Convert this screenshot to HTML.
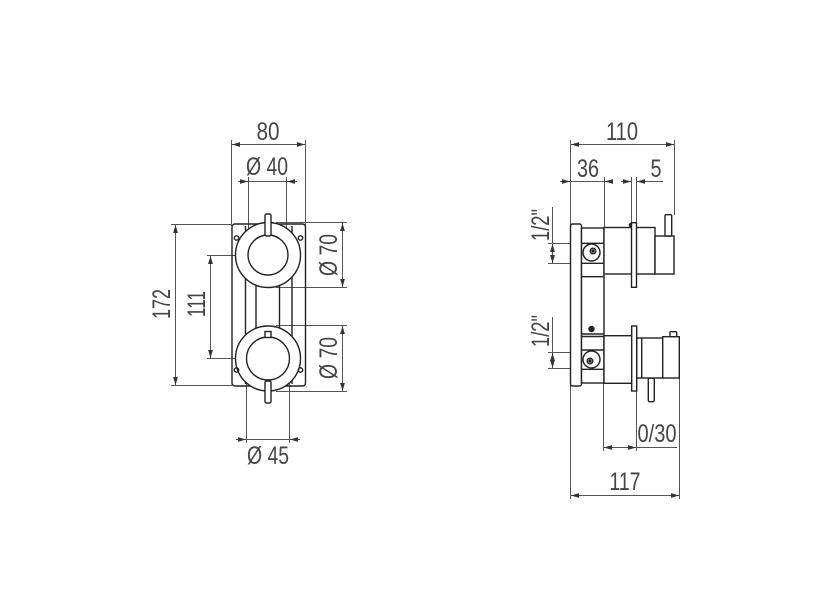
<!DOCTYPE html>
<html><head><meta charset="utf-8"><style>
html,body{margin:0;padding:0;background:#fff;width:832px;height:610px;overflow:hidden}
svg text{font-family:"Liberation Sans Narrow","Liberation Sans",sans-serif;fill:#444;font-size:25px}
</style></head><body>
<svg width="832" height="610" viewBox="0 0 832 610" xmlns="http://www.w3.org/2000/svg">
<defs>
<marker id="a" viewBox="0 0 10 6" refX="10" refY="3" markerWidth="8" markerHeight="5" orient="auto-start-reverse" markerUnits="userSpaceOnUse"><path d="M0,0 L10,3 L0,6z" fill="#333"/></marker>
</defs>
<g stroke="#555" stroke-width="1" fill="none">
<line x1="231.5" y1="140" x2="231.5" y2="226"/><line x1="305.5" y1="140" x2="305.5" y2="226"/>
<line x1="232" y1="144.5" x2="305" y2="144.5" marker-start="url(#a)" marker-end="url(#a)"/>
<line x1="248.5" y1="177" x2="248.5" y2="240"/><line x1="286.5" y1="177" x2="286.5" y2="240"/>
<line x1="238" y1="181.5" x2="248" y2="181.5" marker-end="url(#a)"/><line x1="248" y1="181.5" x2="287" y2="181.5"/><line x1="297" y1="181.5" x2="287" y2="181.5" marker-end="url(#a)"/>
<line x1="276" y1="222.5" x2="347" y2="222.5"/><line x1="276" y1="287.5" x2="347" y2="287.5"/>
<line x1="342.5" y1="223" x2="342.5" y2="287" marker-start="url(#a)" marker-end="url(#a)"/>
<line x1="276" y1="325.5" x2="347" y2="325.5"/><line x1="276" y1="391.5" x2="347" y2="391.5"/>
<line x1="342.5" y1="326" x2="342.5" y2="391" marker-start="url(#a)" marker-end="url(#a)"/>
<line x1="171" y1="224.5" x2="232" y2="224.5"/><line x1="171" y1="385.5" x2="232" y2="385.5"/>
<line x1="175.5" y1="225" x2="175.5" y2="385" marker-start="url(#a)" marker-end="url(#a)"/>
<line x1="207" y1="255.5" x2="268" y2="255.5"/><line x1="207" y1="358.5" x2="268" y2="358.5"/>
<line x1="210.5" y1="256" x2="210.5" y2="358" marker-start="url(#a)" marker-end="url(#a)"/>
<line x1="246.5" y1="365" x2="246.5" y2="443"/><line x1="289.5" y1="365" x2="289.5" y2="443"/>
<line x1="236" y1="439.5" x2="246" y2="439.5" marker-end="url(#a)"/><line x1="246" y1="439.5" x2="290" y2="439.5"/><line x1="300" y1="439.5" x2="290" y2="439.5" marker-end="url(#a)"/>
</g>
<g stroke="#222" stroke-width="1.4" fill="none">
<rect x="232" y="224" width="73.5" height="162" rx="3"/>
<line x1="245.5" y1="226" x2="245.5" y2="384"/><line x1="292" y1="226" x2="292" y2="384"/>
<line x1="256" y1="280" x2="256" y2="335"/><line x1="279.5" y1="280" x2="279.5" y2="335"/>
<circle cx="268" cy="255" r="32.5" fill="#fff"/>
<circle cx="268" cy="255" r="20"/>
<circle cx="268" cy="358.5" r="32.5" fill="#fff"/>
<circle cx="268" cy="358.5" r="21.5"/>
<rect x="265" y="214" width="6" height="22" rx="1.5" fill="#fff"/>
<rect x="265" y="381" width="6" height="22" rx="1.5" fill="#fff"/>
<rect x="265" y="331.5" width="6" height="6" fill="#fff"/>
<circle cx="236.5" cy="238" r="2.2"/><circle cx="300.5" cy="238" r="2.2"/>
<circle cx="236.5" cy="370" r="2.2"/><circle cx="300.5" cy="370" r="2.2"/>
</g>
<text x="268" y="140" text-anchor="middle" textLength="23" lengthAdjust="spacingAndGlyphs">80</text>
<text x="267" y="175" text-anchor="middle" textLength="42" lengthAdjust="spacingAndGlyphs">Ø 40</text>
<text x="268" y="464" text-anchor="middle" textLength="42" lengthAdjust="spacingAndGlyphs">Ø 45</text>
<text transform="translate(170,304) rotate(-90)" text-anchor="middle" textLength="30" lengthAdjust="spacingAndGlyphs">172</text>
<text transform="translate(205,304) rotate(-90)" text-anchor="middle" textLength="26" lengthAdjust="spacingAndGlyphs">111</text>
<text transform="translate(337,255) rotate(-90)" text-anchor="middle" textLength="42" lengthAdjust="spacingAndGlyphs">Ø 70</text>
<text transform="translate(337,358) rotate(-90)" text-anchor="middle" textLength="42" lengthAdjust="spacingAndGlyphs">Ø 70</text>

<g stroke="#555" stroke-width="1" fill="none">
<line x1="570.5" y1="140" x2="570.5" y2="499"/>
<line x1="674.5" y1="140" x2="674.5" y2="215"/>
<line x1="571" y1="144.5" x2="674" y2="144.5" marker-start="url(#a)" marker-end="url(#a)"/>
<line x1="604.5" y1="177" x2="604.5" y2="228"/>
<line x1="560" y1="181.5" x2="570" y2="181.5" marker-end="url(#a)"/><line x1="570" y1="181.5" x2="604" y2="181.5"/><line x1="612" y1="181.5" x2="605" y2="181.5" marker-end="url(#a)"/>
<line x1="631.5" y1="177" x2="631.5" y2="223"/><line x1="636.5" y1="177" x2="636.5" y2="223"/>
<line x1="621" y1="181.5" x2="631" y2="181.5" marker-end="url(#a)"/><line x1="663" y1="181.5" x2="637" y2="181.5" marker-end="url(#a)"/>
<line x1="548" y1="243.5" x2="591" y2="243.5"/><line x1="548" y1="263.5" x2="591" y2="263.5"/>
<line x1="552.5" y1="207" x2="552.5" y2="263"/>
<line x1="552.5" y1="253" x2="552.5" y2="244" marker-end="url(#a)"/><line x1="552.5" y1="253" x2="552.5" y2="263" marker-end="url(#a)"/>
<line x1="548" y1="352.5" x2="591" y2="352.5"/><line x1="548" y1="368.5" x2="591" y2="368.5"/>
<line x1="552.5" y1="317" x2="552.5" y2="368"/>
<line x1="552.5" y1="360" x2="552.5" y2="353" marker-end="url(#a)"/><line x1="552.5" y1="360" x2="552.5" y2="368" marker-end="url(#a)"/>
<line x1="603.5" y1="383" x2="603.5" y2="451"/><line x1="636.5" y1="391" x2="636.5" y2="451"/>
<line x1="604" y1="447.5" x2="636" y2="447.5" marker-start="url(#a)" marker-end="url(#a)"/><line x1="636" y1="447.5" x2="677" y2="447.5"/>
<line x1="679.5" y1="378" x2="679.5" y2="499"/>
<line x1="571" y1="495.5" x2="679" y2="495.5" marker-start="url(#a)" marker-end="url(#a)"/>
</g>
<g stroke="#222" stroke-width="1.4" fill="#fff">
<rect x="570.5" y="224" width="11" height="162" rx="2"/>
<rect x="581.5" y="228" width="22.5" height="155"/>
<line x1="581.5" y1="243.3" x2="604" y2="243.3"/><line x1="581.5" y1="263.3" x2="604" y2="263.3"/>
<line x1="581.5" y1="276.7" x2="604" y2="276.7"/><line x1="581.5" y1="334" x2="604" y2="334"/>
<line x1="581.5" y1="336.5" x2="604" y2="336.5"/><line x1="581.5" y1="350" x2="604" y2="350"/>
<line x1="581.5" y1="369.3" x2="604" y2="369.3"/>
<circle cx="591.5" cy="252.5" r="8.5"/><circle cx="593" cy="251" r="2.8" fill="#fff"/><circle cx="593" cy="251" r="1" fill="#222"/>
<circle cx="591.5" cy="359.5" r="8.5"/><circle cx="590" cy="361" r="2.8" fill="#fff"/><circle cx="590" cy="361" r="1" fill="#222"/>
<circle cx="591.5" cy="329" r="2.5" fill="#222"/>
<circle cx="631" cy="225" r="1.6" fill="#222"/>
<rect x="604" y="227.5" width="51" height="46.5"/>
<rect x="631.5" y="222.7" width="5" height="64.6"/>
<rect x="655" y="236" width="19" height="38"/>
<rect x="665" y="214.7" width="6.7" height="21.3" rx="1"/>
<rect x="604" y="335.7" width="27.7" height="47.6"/>
<rect x="648.3" y="378" width="6" height="23.7" rx="1.5"/>
<rect x="636.7" y="338" width="26" height="40"/>
<line x1="641.7" y1="338" x2="641.7" y2="378"/>
<rect x="662.7" y="336.7" width="16.6" height="41.3"/>
<rect x="670" y="331.7" width="6.7" height="5" rx="1"/>
<rect x="631.7" y="326" width="5" height="65"/>
</g>
<text x="622" y="140" text-anchor="middle" textLength="32" lengthAdjust="spacingAndGlyphs">110</text>
<text x="588" y="177" text-anchor="middle" textLength="22" lengthAdjust="spacingAndGlyphs">36</text>
<text x="656" y="177" text-anchor="middle" textLength="11" lengthAdjust="spacingAndGlyphs">5</text>
<text x="657" y="442" text-anchor="middle" textLength="39" lengthAdjust="spacingAndGlyphs">0/30</text>
<text x="625" y="490" text-anchor="middle" textLength="31" lengthAdjust="spacingAndGlyphs">117</text>
<text transform="translate(549,225) rotate(-90)" text-anchor="middle" font-size="22" textLength="32" lengthAdjust="spacingAndGlyphs">1/2"</text>
<text transform="translate(549,331) rotate(-90)" text-anchor="middle" font-size="22" textLength="32" lengthAdjust="spacingAndGlyphs">1/2"</text>
</svg>
</body></html>
